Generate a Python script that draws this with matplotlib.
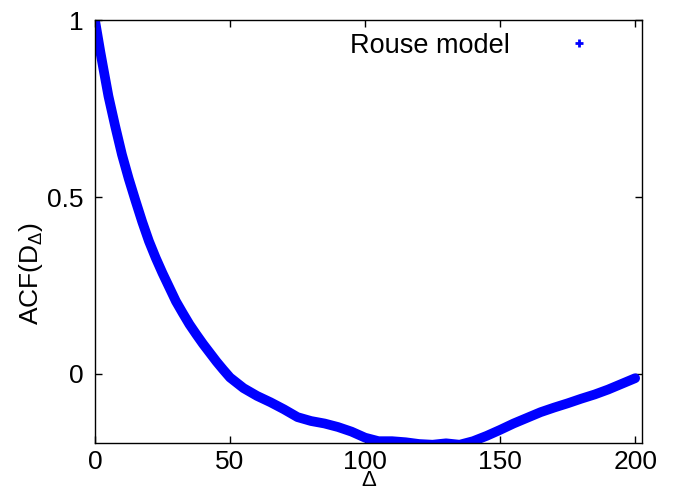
import numpy as np
import matplotlib.pyplot as plt
from matplotlib.lines import Line2D

plt.rcParams['font.family'] = ['Liberation Sans', 'DejaVu Sans']
plt.rcParams['mathtext.fontset'] = 'custom'
plt.rcParams['mathtext.rm'] = 'Liberation Sans'
plt.rcParams['mathtext.default'] = 'rm'

# lag Delta and autocorrelation
delta = [0, 1, 2, 3, 5, 7.5, 10, 12.5, 15, 17.5, 20, 22.5, 25, 27.5, 30,
         32.5, 35, 37.5, 40, 42.5, 45, 47.5, 50, 55, 60, 65, 70, 75,
         80, 85, 90, 95, 100, 105, 110, 115, 120, 125, 130, 135, 140, 145,
         150, 155, 160, 165, 170, 175, 180, 185, 190, 195, 200]
acf = [1.0, 0.955, 0.91, 0.868, 0.785, 0.70, 0.62, 0.552, 0.49, 0.43,
       0.375, 0.328, 0.285, 0.245, 0.205, 0.172, 0.14, 0.112, 0.085, 0.06,
       0.035, 0.012, -0.01, -0.04, -0.062, -0.08, -0.10, -0.122, -0.133,
       -0.14, -0.15, -0.163, -0.18, -0.19, -0.19, -0.193, -0.198, -0.2,
       -0.196, -0.2, -0.19, -0.175, -0.158, -0.14, -0.124, -0.108, -0.095,
       -0.083, -0.07, -0.058, -0.044, -0.028, -0.012]

xticks = [0, 50, 100, 150, 200]
yticks = [0, 0.5, 1]

fig = plt.figure(figsize=(6.88, 4.90), dpi=100)
ax = fig.add_axes([0.138, 0.096, 0.795, 0.863])

ax.plot(delta, acf, color='#0000ff', lw=7, solid_capstyle='round',
        solid_joinstyle='round')

ax.set_xlim(0, 202.5)
ax.set_ylim(-0.195, 1)
ax.set_xticks(xticks)
ax.set_yticks(yticks)
ax.set_yticklabels(['0', '0.5', '1'])
ax.tick_params(direction='in', top=True, right=True, length=5, width=1,
               labelsize=19)
ax.tick_params(axis='x', pad=5)
ax.tick_params(axis='y', pad=8)
for s in ax.spines.values():
    s.set_linewidth(1)

ax.set_xlabel('Δ', fontsize=16, labelpad=-3)
ax.set_ylabel(r'ACF(D$_{\Delta}$)', fontsize=19)
ax.yaxis.set_label_coords(-0.092, 0.40)

h = Line2D([], [], color='#0000ff', marker='+', ls='none', ms=6, mew=2)
ax.legend([h], ['Rouse model'], loc='upper right', frameon=False,
          fontsize=19.5, markerfirst=False, handlelength=1.5,
          handletextpad=1.8, borderaxespad=0.3, bbox_to_anchor=(0.957, 1.015))

fig.savefig('out.png', dpi=100)
